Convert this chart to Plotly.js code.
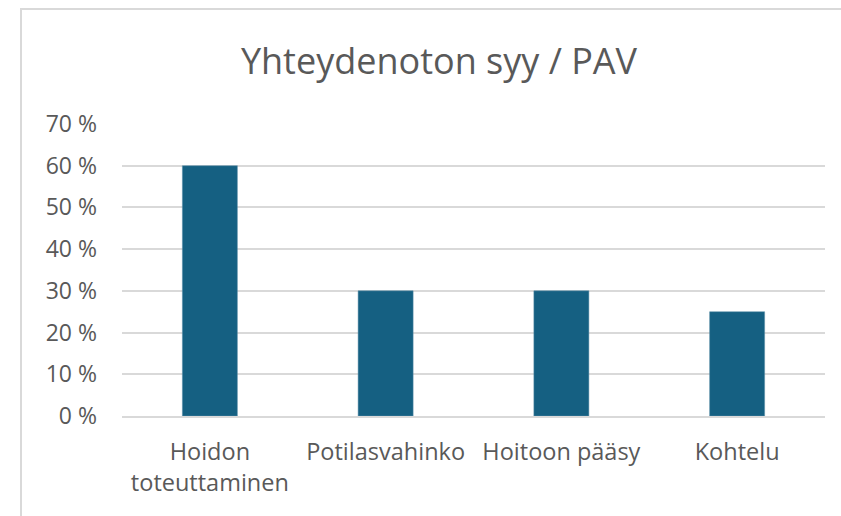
<!DOCTYPE html>
<html>
<head>
<meta charset="utf-8">
<script src="https://cdn.plot.ly/plotly-3.0.1.min.js"></script>
<style>
  html, body { margin: 0; padding: 0; overflow: hidden; background: #fff; width: 841px; height: 516px; }
  #frame { position: absolute; left: 20px; top: 8px; width: 836px; height: 520px;
           border-top: 2px solid #d9d9d9; border-left: 2px solid #d9d9d9; box-sizing: border-box; }
  #chart { position: absolute; left: 0; top: 0; }
</style>
</head>
<body>
<div id="frame"><div id="chart"></div></div>
<script>
const categories = ["Hoidon<br>toteuttaminen", "Potilasvahinko", "Hoitoon pääsy", "Kohtelu"];
const values = [60, 30, 30, 25];
const tickValues = [0, 10, 20, 30, 40, 50, 60, 70];
const tickLabels = ["0 %", "10 %", "20 %", "30 %", "40 %", "50 %", "60 %", "70 %"];
const chartTitle = "Yhteydenoton syy / PAV";

const fontFam = "Open Sans, Noto Sans, sans-serif";

Plotly.newPlot("chart", [{
  type: "bar",
  x: categories,
  y: values,
  marker: { color: "#156082", line: { color: "#5b8fa8", width: 0.5 } },
  hoverinfo: "x+y"
}], {
  width: 834,
  height: 510,
  margin: { l: 100, r: 31, t: 114, b: 104 },
  paper_bgcolor: "rgba(0,0,0,0)",
  plot_bgcolor: "rgba(0,0,0,0)",
  bargap: 0.687,
  title: {
    text: chartTitle,
    font: { family: fontFam, size: 36, color: "#595959" },
    x: 0.5, xanchor: "center",
    y: 1 - 51 / 510, yanchor: "middle"
  },
  xaxis: {
    tickfont: { family: fontFam, size: 23.5, color: "#595959" },
    showline: true, linecolor: "#d9d9d9", linewidth: 2,
    ticks: "", ticklabelstandoff: 14,
    showgrid: false, zeroline: false
  },
  yaxis: {
    range: [0, 70],
    tickvals: tickValues,
    ticktext: tickLabels,
    tickfont: { family: fontFam, size: 23, color: "#595959" },
    gridcolor: "#d9d9d9", gridwidth: 2,
    showline: false, zeroline: false,
    ticks: "", ticklabelstandoff: 24
  },
  showlegend: false
}, { displayModeBar: false, staticPlot: true });
</script>
</body>
</html>
